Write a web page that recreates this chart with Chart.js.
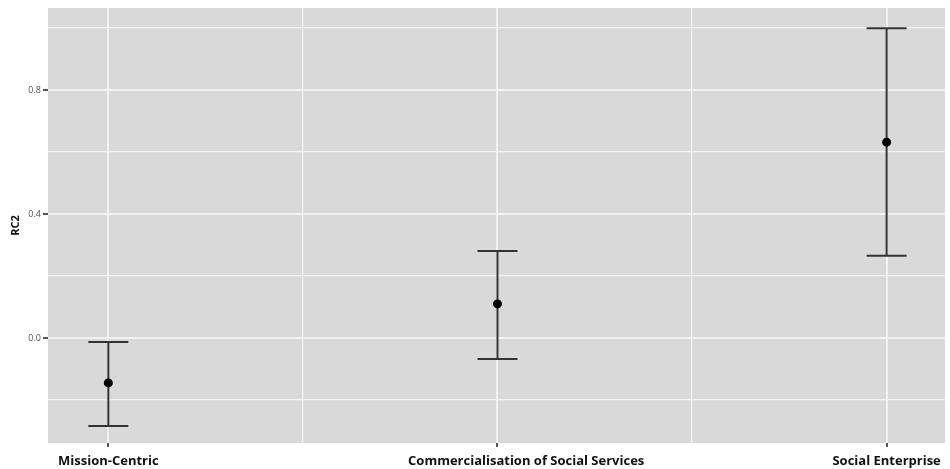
<!DOCTYPE html>
<html>
<head>
<meta charset="utf-8">
<script src="https://cdn.jsdelivr.net/npm/chart.js@4/dist/chart.umd.min.js"></script>
<style>
  body { margin: 0; background: #fff; }
</style>
</head>
<body>
<canvas id="rc2Chart" width="950" height="469"></canvas>
<script>
let categories = ['Mission-Centric', 'Commercialisation of Social Services', 'Social Enterprise'];
let means = [-0.145, 0.110, 0.632];
let lower = [-0.284, -0.068, 0.265];
let upper = [-0.013, 0.281, 1.000];
let yGrid = [-0.2, 0.0, 0.2, 0.4, 0.6, 0.8, 1.0];
let yLabeled = [0.0, 0.4, 0.8];
let xGrid = [0, 0.5, 1, 1.5, 2];

// the middle label sits a little right of its tick in the original
let labelLead = ['', ' '.repeat(17), ''];

function isLabeledY(v) {
    return yLabeled.some(t => Math.abs(t - v) < 1e-9);
}

// grey ggplot-ish panel behind the grid
let panelBg = {
    id: 'panelBg',
    beforeDraw(chart) {
        let a = chart.chartArea;
        let c = chart.ctx;
        c.save();
        c.fillStyle = '#d9d9d9';
        c.fillRect(a.left, a.top, a.right - a.left, a.bottom - a.top);
        c.restore();
    }
};

let datasets = [];
datasets.push({
    type: 'scatter',
    data: categories.map((c, i) => ({x: i, y: means[i]})),
    pointStyle: 'circle',
    pointRadius: 4.5,
    backgroundColor: '#000',
    borderColor: '#000',
    borderWidth: 0
});
datasets.push({
    type: 'scatter',
    data: categories.flatMap((c, i) => [{x: i, y: lower[i]}, {x: i, y: upper[i]}]),
    pointStyle: 'line',
    pointRadius: 20,
    borderColor: '#333',
    borderWidth: 2
});
categories.forEach((c, i) => {
    datasets.push({
        type: 'line',
        data: [{x: i, y: lower[i]}, {x: i, y: upper[i]}],
        borderColor: '#333',
        borderWidth: 2,
        pointRadius: 0,
        fill: false
    });
});

new Chart(document.getElementById('rc2Chart'), {
    type: 'scatter',
    data: { datasets: datasets },
    plugins: [panelBg],
    options: {
        responsive: false,
        animation: false,
        layout: { autoPadding: false, padding: { top: 8, right: 5, left: 0, bottom: 0 } },
        plugins: {
            legend: { display: false },
            tooltip: { enabled: false }
        },
        scales: {
            x: {
                type: 'linear',
                min: -0.155,
                max: 2.15,
                afterBuildTicks: s => { s.ticks = xGrid.map(v => ({value: v})); },
                afterFit: s => {
                    s.height = 26;
                    s.paddingLeft = 0;
                    s.paddingRight = 0;
                },
                border: { display: false },
                grid: {
                    color: '#f2f2f2',
                    lineWidth: ctx => Number.isInteger(ctx.tick.value) ? 2 : 1.3,
                    tickColor: ctx => Number.isInteger(ctx.tick.value) ? '#555' : 'rgba(0,0,0,0)',
                    tickLength: 4
                },
                ticks: {
                    autoSkip: false,
                    maxRotation: 0,
                    padding: 6,
                    color: '#111',
                    font: { family: 'Open Sans', size: 13, weight: 'bold' },
                    callback: v => Number.isInteger(v) ? labelLead[v] + categories[v] : ''
                }
            },
            y: {
                min: -0.339,
                max: 1.065,
                afterBuildTicks: s => { s.ticks = yGrid.map(v => ({value: v})); },
                afterFit: s => {
                    s.width = 48;
                    s.paddingTop = 0;
                    s.paddingBottom = 0;
                },
                border: { display: false },
                grid: {
                    color: '#f2f2f2',
                    lineWidth: ctx => isLabeledY(ctx.tick.value) ? 2 : 1.3,
                    tickColor: ctx => isLabeledY(ctx.tick.value) ? '#555' : 'rgba(0,0,0,0)',
                    tickLength: 5
                },
                ticks: {
                    padding: 2,
                    color: '#555',
                    font: { family: 'Open Sans', size: 9 },
                    callback: v => isLabeledY(v) ? v.toFixed(1) : ''
                },
                title: {
                    display: true,
                    text: 'RC2',
                    color: '#111',
                    font: { family: 'Open Sans', size: 11, weight: 'bold' },
                    padding: { top: 9, bottom: 0 }
                }
            }
        }
    }
});
</script>
</body>
</html>
